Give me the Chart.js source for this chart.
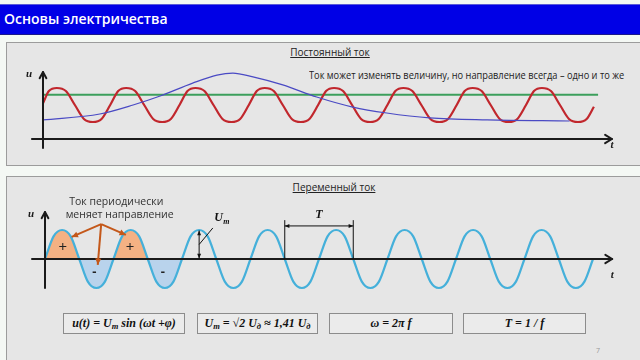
<!DOCTYPE html>
<html><head><meta charset="utf-8">
<script src="https://cdn.jsdelivr.net/npm/chart.js@4"></script>
<style>
html,body{margin:0;padding:0;}
body{width:640px;height:360px;overflow:hidden;position:relative;background:#f4f8f4;font-family:"Open Sans",sans-serif;}
.bar{position:absolute;left:0;top:4px;width:640px;height:31px;background:#0000e6;border-top:1px solid #5a5ad8;border-bottom:1px solid #1a1a8a;box-sizing:border-box;}
.bar span{position:absolute;left:4px;top:4px;color:#fff;font-weight:600;font-size:14px;white-space:nowrap;}
.panel{position:absolute;left:6px;width:650px;background:#e6e6e6;border:1px solid #9c9c9c;box-sizing:border-box;}
.ptitle{position:absolute;text-decoration:underline;font-size:10px;color:#222;white-space:nowrap;transform:translate(-50%,-50%);}
.note{position:absolute;left:309px;top:68px;font-size:10.5px;color:#222;white-space:nowrap;transform:scaleX(0.88);transform-origin:0 50%;}
.box{position:absolute;top:313px;height:21px;border:1px solid #8c8c8c;background:#ebebeb;box-sizing:border-box;font-family:"Liberation Serif",serif;font-style:italic;font-weight:bold;font-size:12px;text-align:center;line-height:19px;color:#111;white-space:nowrap;}
.box .s{font-size:8.5px;position:relative;top:2px;}
.pg{position:absolute;left:596px;top:346px;font-size:7px;color:#999;}
canvas{position:absolute;left:0;}
</style></head>
<body>
<div class="bar"><span>Основы электричества</span></div>
<div class="panel" style="top:42px;height:124px;"></div>
<div class="panel" style="top:176px;height:200px;"></div>
<div class="ptitle" style="left:330px;top:52px;">Постоянный ток</div>
<div class="note">Ток может изменять величину, но направление всегда – одно и то же</div>
<div class="ptitle" style="left:334px;top:187px;">Переменный ток</div>
<div class="box" style="left:63px;width:122px;">u(t) = U<span class="s">m</span> sin (ωt +φ)</div>
<div class="box" style="left:197px;width:121px;">U<span class="s">m</span> = √2 U<span class="s">д</span> ≈ 1,41 U<span class="s">д</span></div>
<div class="box" style="left:329px;width:124px;">ω = 2π f</div>
<div class="box" style="left:463px;width:123px;">T = 1 / f</div>
<div class="pg">7</div>
<canvas id="top" width="640" height="124" style="top:42px;"></canvas>
<canvas id="bot" width="640" height="184" style="top:176px;"></canvas>
<script>
// ---- Постоянный ток (pulsating DC) ----
const redT = [0, 0.085,
  0.2, 0.33, 0.46, 0.59, 0.72, 0.845, 0.97, 1.085,
  1.2, 1.33, 1.46, 1.59, 1.72, 1.845, 1.97, 2.085,
  2.2, 2.33, 2.46, 2.59, 2.72, 2.845, 2.97, 3.085,
  3.2, 3.33, 3.46, 3.59, 3.72, 3.845, 3.97, 4.085,
  4.2, 4.33, 4.46, 4.59, 4.72, 4.845, 4.97, 5.085,
  5.2, 5.33, 5.46, 5.59, 5.72, 5.845, 5.97, 6.085,
  6.2, 6.33, 6.46, 6.59, 6.72, 6.845, 6.97, 7.085,
  7.2, 7.33, 7.46, 7.59, 7.72, 7.845, 7.95];
const redU = [2.1, 2.82,
  3, 2.82, 2, 1.18, 1, 1.18, 2, 2.82,
  3, 2.82, 2, 1.18, 1, 1.18, 2, 2.82,
  3, 2.82, 2, 1.18, 1, 1.18, 2, 2.82,
  3, 2.82, 2, 1.18, 1, 1.18, 2, 2.82,
  3, 2.82, 2, 1.18, 1, 1.18, 2, 2.82,
  3, 2.82, 2, 1.18, 1, 1.18, 2, 2.82,
  3, 2.82, 2, 1.18, 1, 1.18, 2, 2.82,
  3, 2.82, 2, 1.18, 1, 1.18, 1.9];
const dcT = [0, 8.01];
const dcU = [2.6, 2.6];
const varT = [0, 0.82, 1.30, 1.69, 2.16, 2.51, 2.74, 3.03, 3.46, 3.95, 4.47, 4.96, 5.58, 6.41, 7.6];
const varU = [1.12, 1.47, 2.0, 2.53, 3.29, 3.76, 3.88, 3.65, 3.18, 2.47, 1.88, 1.53, 1.24, 1.12, 1.06];
// ---- Переменный ток (AC) ----
const acT = [0, 0.125, 0.25, 0.375, 0.5, 0.625, 0.75, 0.875,
  1, 1.125, 1.25, 1.375, 1.5, 1.625, 1.75, 1.875,
  2, 2.125, 2.25, 2.375, 2.5, 2.625, 2.75, 2.875,
  3, 3.125, 3.25, 3.375, 3.5, 3.625, 3.75, 3.875,
  4, 4.125, 4.25, 4.375, 4.5, 4.625, 4.75, 4.875,
  5, 5.125, 5.25, 5.375, 5.5, 5.625, 5.75, 5.875,
  6, 6.125, 6.25, 6.375, 6.5, 6.625, 6.75, 6.875,
  7, 7.125, 7.25, 7.375, 7.5, 7.625, 7.75, 7.875, 8];
const acU = [0, 0.78, 1, 0.78, 0, -0.78, -1, -0.78,
  0, 0.78, 1, 0.78, 0, -0.78, -1, -0.78,
  0, 0.78, 1, 0.78, 0, -0.78, -1, -0.78,
  0, 0.78, 1, 0.78, 0, -0.78, -1, -0.78,
  0, 0.78, 1, 0.78, 0, -0.78, -1, -0.78,
  0, 0.78, 1, 0.78, 0, -0.78, -1, -0.78,
  0, 0.78, 1, 0.78, 0, -0.78, -1, -0.78,
  0, 0.78, 1, 0.78, 0, -0.78, -1, -0.78, 0];
const posT1 = [0, 0.125, 0.25, 0.375, 0.5], posT2 = [1, 1.125, 1.25, 1.375, 1.5];
const posU = [0, 0.78, 1, 0.78, 0];
const negT1 = [0.5, 0.625, 0.75, 0.875, 1], negT2 = [1.5, 1.625, 1.75, 1.875, 2];
const negU = [0, -0.78, -1, -0.78, 0];
const signLabels = ['+', '-'];

const pts = (xs, ys) => xs.map((x, i) => ({x: x, y: ys[i]}));

function baseOpts(xr, yr) {
  return {
    responsive: false, animation: false, devicePixelRatio: 1, events: [],
    layout: {padding: 0},
    plugins: {legend: {display: false}, tooltip: {enabled: false}, title: {display: false}},
    scales: {
      x: {type: 'linear', display: false, min: xr[0], max: xr[1]},
      y: {type: 'linear', display: false, min: yr[0], max: yr[1]}
    },
    elements: {point: {radius: 0}}
  };
}
function line(data, color, w, order, extra) {
  return Object.assign({data: data, borderColor: color, borderWidth: w, fill: false,
    cubicInterpolationMode: 'monotone', pointRadius: 0, order: order}, extra || {});
}
function chevron(ctx, px, py, ang, len, spread) {
  ctx.beginPath();
  ctx.moveTo(px - len * Math.cos(ang - spread), py - len * Math.sin(ang - spread));
  ctx.lineTo(px, py);
  ctx.lineTo(px - len * Math.cos(ang + spread), py - len * Math.sin(ang + spread));
  ctx.stroke();
}
function head(ctx, px, py, ang, len, spread) {
  ctx.beginPath();
  ctx.moveTo(px, py);
  ctx.lineTo(px - len * Math.cos(ang - spread), py - len * Math.sin(ang - spread));
  ctx.lineTo(px - len * Math.cos(ang + spread), py - len * Math.sin(ang + spread));
  ctx.closePath();
  ctx.fill();
}
function arrow(ctx, x1, y1, x2, y2, len, spread, both) {
  ctx.beginPath(); ctx.moveTo(x1, y1); ctx.lineTo(x2, y2); ctx.stroke();
  const a = Math.atan2(y2 - y1, x2 - x1);
  head(ctx, x2, y2, a, len, spread);
  if (both) head(ctx, x1, y1, a + Math.PI, len, spread);
}
function axes(ctx, x, y, xr, yr, tdy) {
  const x0 = x.getPixelForValue(0), y0 = y.getPixelForValue(0);
  ctx.strokeStyle = '#1a1a1a'; ctx.lineWidth = 2; ctx.lineCap = 'round'; ctx.lineJoin = 'round';
  const xe = x.getPixelForValue(xr[1]), ye = y.getPixelForValue(yr[1]);
  ctx.beginPath(); ctx.moveTo(x.getPixelForValue(xr[0]), y0); ctx.lineTo(xe, y0); ctx.stroke();
  ctx.beginPath(); ctx.moveTo(x0, y.getPixelForValue(yr[0])); ctx.lineTo(x0, ye); ctx.stroke();
  chevron(ctx, xe, y0, 0, 8, 0.55);
  chevron(ctx, x0, ye, -Math.PI / 2, 7, 0.5);
  ctx.fillStyle = '#1a1a1a';
  ctx.font = 'italic bold 11px "Liberation Serif", serif';
  ctx.textAlign = 'center'; ctx.textBaseline = 'middle';
  ctx.fillText('u', x0 - 14, ye + 2);
  ctx.fillText('t', xe, y0 + tdy);
}

const topDeco = {id: 'topDeco', afterDatasetsDraw(c) {
  const ctx = c.ctx, x = c.scales.x, y = c.scales.y;
  ctx.save();
  axes(ctx, x, y, [-0.16, 8.21], [-0.53, 3.94], 6);
  ctx.restore();
}};

const botDeco = {id: 'botDeco', afterDatasetsDraw(c) {
  const ctx = c.ctx, x = c.scales.x, y = c.scales.y;
  const X = v => x.getPixelForValue(v), Y = v => y.getPixelForValue(v);
  ctx.save();
  axes(ctx, x, y, [-0.19, 8.28], [-1.0, 1.62], 16);
  // signs
  ctx.fillStyle = '#222';
  ctx.font = '15px "Open Sans", sans-serif';
  ctx.textAlign = 'center'; ctx.textBaseline = 'middle';
  ctx.fillText(signLabels[0], X(0.26), Y(0.38));
  ctx.fillText(signLabels[0], X(1.24), Y(0.38));
  ctx.font = 'bold 13px "Open Sans", sans-serif';
  ctx.fillText(signLabels[1], X(0.72), Y(-0.45));
  ctx.fillText(signLabels[1], X(1.72), Y(-0.45));
  // annotation text
  ctx.font = '10.5px "Open Sans", sans-serif';
  ctx.fillStyle = '#333';
  ctx.fillText('Ток периодически', X(1.04), Y(1.97));
  ctx.fillText('меняет направление', X(1.09), Y(1.52));
  // orange arrows
  ctx.strokeStyle = '#c4581a'; ctx.fillStyle = '#c4581a'; ctx.lineWidth = 2; ctx.lineCap = 'butt';
  const ox = X(0.82), oy = Y(1.2);
  arrow(ctx, ox, oy, X(0.39), Y(0.76), 7, 0.45);
  arrow(ctx, ox, oy, X(1.18), Y(0.83), 7, 0.45);
  arrow(ctx, ox, oy, X(0.77), Y(-0.2), 7, 0.45);
  // Um
  ctx.strokeStyle = '#111'; ctx.fillStyle = '#111'; ctx.lineWidth = 1;
  arrow(ctx, X(2.25), Y(0.02), X(2.25), Y(0.98), 5, 0.4, true);
  ctx.beginPath(); ctx.moveTo(X(2.25), Y(0.5)); ctx.lineTo(X(2.45), Y(1.07)); ctx.stroke();
  ctx.font = 'italic bold 12px "Liberation Serif", serif';
  ctx.textAlign = 'left';
  ctx.fillText('U', X(2.47), Y(1.4));
  ctx.font = 'italic bold 8px "Liberation Serif", serif';
  ctx.fillText('m', X(2.47) + 9, Y(1.4) + 4);
  // T
  ctx.beginPath(); ctx.moveTo(X(3.5), Y(0)); ctx.lineTo(X(3.5), Y(1.34));
  ctx.moveTo(X(4.5), Y(0)); ctx.lineTo(X(4.5), Y(1.34)); ctx.stroke();
  arrow(ctx, X(3.5), Y(1.14), X(4.5), Y(1.14), 5, 0.4, true);
  ctx.font = 'italic bold 12px "Liberation Serif", serif';
  ctx.textAlign = 'center';
  ctx.fillText('T', X(4.0), Y(1.52));
  ctx.restore();
}};

const topX = [-0.6205, 8.615], topY = [-1.588, 5.706];
new Chart(document.getElementById('top'), {
  type: 'line',
  data: {datasets: [
    line(pts(dcT, dcU), '#3c9f5c', 2, 3),
    line(pts(redT, redU), '#c1272d', 2.2, 2),
    line(pts(varT, varU), '#4a4ac4', 1.2, 1)
  ]},
  options: baseOpts(topX, topY),
  plugins: [topDeco]
});

const botX = [-0.657, 8.686], botY = [-3.483, 2.862];
const fillPos = {fill: 'origin', backgroundColor: '#f4b183', borderWidth: 0, borderColor: 'rgba(0,0,0,0)'};
const fillNeg = {fill: 'origin', backgroundColor: '#b9d3ec', borderWidth: 0, borderColor: 'rgba(0,0,0,0)'};
new Chart(document.getElementById('bot'), {
  type: 'line',
  data: {datasets: [
    line(pts(posT1, posU), 'rgba(0,0,0,0)', 0, 5, fillPos),
    line(pts(posT2, posU), 'rgba(0,0,0,0)', 0, 5, fillPos),
    line(pts(negT1, negU), 'rgba(0,0,0,0)', 0, 5, fillNeg),
    line(pts(negT2, negU), 'rgba(0,0,0,0)', 0, 5, fillNeg),
    line(pts(acT, acU), '#45b0da', 2.2, 1)
  ]},
  options: baseOpts(botX, botY),
  plugins: [botDeco]
});
</script>
</body></html>
